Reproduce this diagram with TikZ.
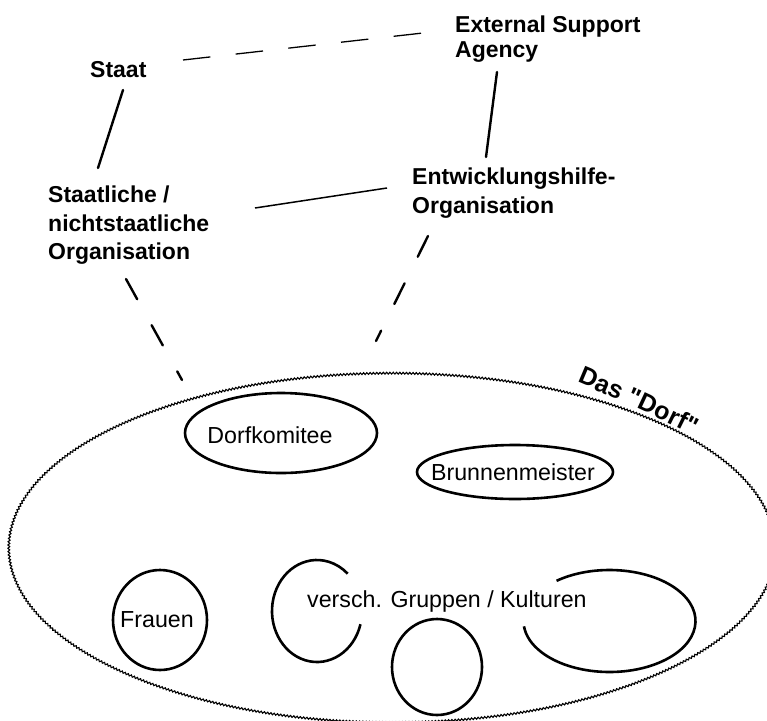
\documentclass[tikz,border=0pt]{standalone}
\usepackage{fontspec}
\setmainfont{Liberation Sans}
% same face without TeX input mapping, so that " stays a straight quote
\newfontfamily\dorffont{Liberation Sans}[Ligatures=TeXOff]
\usetikzlibrary{decorations.pathmorphing,decorations.text}
\begin{document}
\begin{tikzpicture}[x=1pt,y=-1pt,
  label/.style={inner sep=0pt, anchor=north west, align=left,
    font=\bfseries\fontsize{23}{28.5}\selectfont},
  member/.style={inner sep=0pt, anchor=base, font=\fontsize{23.2}{27}\selectfont},
  ring/.style={line width=2.6pt},
  link/.style={line width=2.4pt, line cap=round},
  thinlink/.style={line width=1.5pt},
  dashlink/.style={line width=2.4pt, line cap=round, dash pattern=on 23.1pt off 29.7pt},
  faint/.style={line width=1.3pt, dash pattern=on 27.5pt off 25.5pt},
  village/.style={line width=1.1pt, decorate,
    decoration={snake, amplitude=0.9pt, segment length=3.3pt}},
]
\useasboundingbox (0,0) rectangle (767,720);
\fill[white] (0,0) rectangle (767,720);

% actors outside the village
\node[label, anchor=base west] (staat) at (90,77) {Staat};
\node[label, font=\bfseries\fontsize{23}{25}\selectfont] (esa) at (455,16) {External Support\\Agency};
\node[label] (staatl) at (48,186) {Staatliche /\\nichtstaatliche\\Organisation};
\node[label, font=\bfseries\fontsize{23}{28.3}\selectfont] (entw) at (412,168) {Entwicklungshilfe-\\Organisation};

% the village
\coordinate (dorf) at (392,547);
\draw[village] (dorf) ellipse[x radius=384, y radius=175];
\path[decorate, decoration={text along path,
    text={|\dorffont\bfseries\fontsize{25}{30}\selectfont|Das "Dorf"}}]
  ([shift={(185,-165)}]dorf) .. controls ([shift={(228,-147)}]dorf)
  and ([shift={(278,-125)}]dorf) .. ([shift={(338,-92)}]dorf);

% groups inside the village
\draw[ring] (281,433) ellipse[x radius=96, y radius=40];
\node[member] (dorfkomitee) at (270,443) {Dorfkomitee};
\draw[ring] (515,472) ellipse[x radius=98, y radius=27];
\node[member] (brunnen) at (513,480) {Brunnenmeister};
\draw[ring] (160,620) ellipse[x radius=47, y radius=50];
\node[member] (frauen) at (157,627) {Frauen};
\draw[ring] (317,611) ++(15:45 and 51) arc[start angle=15, end angle=313, x radius=45, y radius=51];
\draw[ring] (437,667) ellipse[x radius=45, y radius=48];
\draw[ring] (609.5,621) ++(232:86 and 51) arc[start angle=232, end angle=534, x radius=86, y radius=51];
\node[member, anchor=base west] (gruppen) at (307,607) {versch. Gruppen / Kulturen};

% relations
\draw[link] ([shift={(33,13)}]staat.base west) -- ([shift={(50,-18)}]staatl.north west);
\draw[faint] ([shift={(93,-17)}]staat.base west) -- ([shift={(-32,17)}]esa.north west);
\draw[link] ([shift={(42,56)}]esa.north west) -- ([shift={(74,-11)}]entw.north west);
\draw[thinlink] ([shift={(207,22)}]staatl.north west) -- ([shift={(-25,20)}]entw.north west);
\draw[dashlink] ([shift={(78,93)}]staatl.north west) -- ([shift={(-210,-167)}]dorf);
\draw[dashlink] ([shift={(16,68)}]entw.north west) -- ([shift={(-16,-206)}]dorf);
\end{tikzpicture}
\end{document}
